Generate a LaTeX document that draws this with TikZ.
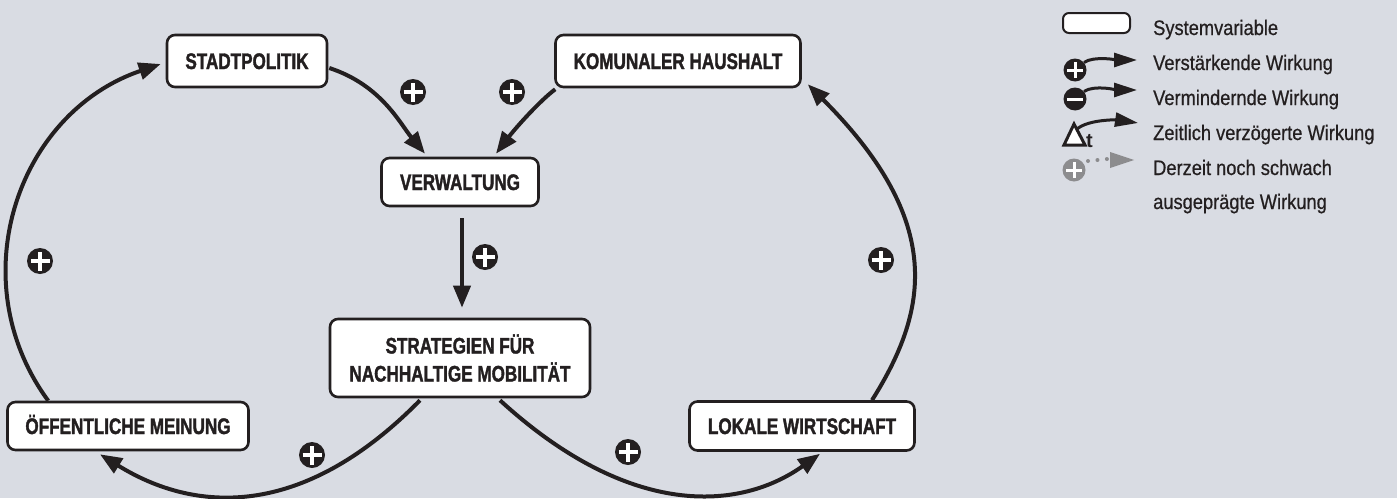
\documentclass[tikz,border=0pt]{standalone}
\usepackage{fontspec}
\setmainfont{Liberation Sans}
\newfontfamily\boxfont[FakeStretch=0.76, BoldFeatures={FakeBold=1.5}]{Liberation Sans}
\newfontfamily\legfont[FakeStretch=0.87, UprightFeatures={FakeBold=0.6}]{Liberation Sans}
\usetikzlibrary{arrows.meta,calc}
\definecolor{ink}{HTML}{231F20}
\definecolor{bgpanel}{HTML}{D9DCE3}
\definecolor{faint}{HTML}{8C8C8E}

\begin{document}
\begin{tikzpicture}[x=1pt,y=-1pt,
  varbox/.style={draw=ink, line width=2.6pt, fill=white, rounded corners=8pt,
    inner sep=0pt, text=ink, align=center,
    font=\boxfont\bfseries\fontsize{22.5}{28}\selectfont},
  oneline/.style={text height=16pt, text depth=0pt},
  flow/.style={draw=ink, line width=4pt, -{Triangle[length=22pt,width=17pt]}},
  pluscirc/.style={circle, fill=ink, minimum size=26pt, inner sep=0pt,
    path picture={
      \draw[white, line width=3.4pt]
        ([xshift=-9.5pt]path picture bounding box.center) -- ([xshift=9.5pt]path picture bounding box.center)
        ([yshift=-9.5pt]path picture bounding box.center) -- ([yshift=9.5pt]path picture bounding box.center);}},
  legplus/.style={circle, fill=#1, minimum size=23pt, inner sep=0pt,
    path picture={
      \draw[white, line width=3pt]
        ([xshift=-8pt]path picture bounding box.center) -- ([xshift=8pt]path picture bounding box.center)
        ([yshift=-8pt]path picture bounding box.center) -- ([yshift=8pt]path picture bounding box.center);}},
  legminus/.style={circle, fill=ink, minimum size=23pt, inner sep=0pt,
    path picture={
      \draw[white, line width=3pt]
        ([xshift=-8pt]path picture bounding box.center) -- ([xshift=8pt]path picture bounding box.center);}},
  legarrow/.style={draw=ink, line width=3pt, -{Triangle[length=23pt,width=14pt]}},
  legtext/.style={anchor=base west, inner sep=0pt, text=ink,
    font=\legfont\fontsize{21}{24}\selectfont}
]
\useasboundingbox[fill=bgpanel] (0,0) rectangle (1397,498);

% system variables
\node[varbox, oneline, minimum width=160pt, minimum height=52pt] (stadt) at (247,61) {STADTPOLITIK};
\node[varbox, oneline, minimum width=245pt, minimum height=52pt] (kom) at (678,61) {KOMUNALER HAUSHALT};
\node[varbox, oneline, minimum width=157pt, minimum height=48pt] (verw) at (460,182) {VERWALTUNG};
\node[varbox, minimum width=260pt, minimum height=78pt] (strat) at (460,358) {STRATEGIEN FÜR\\NACHHALTIGE MOBILITÄT};
\node[varbox, oneline, minimum width=241pt, minimum height=48pt] (oeff) at (128,426) {ÖFFENTLICHE MEINUNG};
\node[varbox, oneline, minimum width=225pt, minimum height=49pt] (lok) at (802,426) {LOKALE WIRTSCHAFT};

% causal links
\draw[flow] ($(stadt.east)+(1,7)$) .. controls +(52,17) and +(-25,-30) .. ($(verw.north)+(-35,-3)$);
\draw[flow] ($(kom.south west)+(1,1)$) .. controls +(-16,12) and +(19,-25) .. ($(verw.north)+(36,-3)$);
\draw[flow] ($(verw.south)+(2,11)$) -- ($(strat.north)+(2,-10)$);
\draw[flow] ($(strat.south)+(-40,2)$) .. controls +(-119,121) and +(93.5,58) .. ($(oeff.south)+(-28,3)$);
\draw[flow] ($(strat.south)+(40,2)$) .. controls +(130,119) and +(-80,57) .. ($(lok.south)+(18,2)$);
\draw[flow] ($(oeff.north west)+(42,0)$) .. controls +(-88,-120) and +(-144,49) .. ($(stadt.west)+(-5,3)$);
\draw[flow] ($(lok.north)+(70,0)$) .. controls +(56,-89) and +(138,138) .. ($(kom.south east)+(6,-4)$);

% polarity marks
\node[pluscirc] (p1) at (413,92) {};
\node[pluscirc] (p2) at (512,92) {};
\node[pluscirc] (p3) at (485,257) {};
\node[pluscirc] (p4) at (40,261) {};
\node[pluscirc] (p5) at (312,455) {};
\node[pluscirc] (p6) at (628,452) {};
\node[pluscirc] (p7) at (881,260) {};

% legend
\node[draw=ink, line width=2pt, fill=white, rounded corners=6pt, minimum width=67pt, minimum height=20pt, inner sep=0pt] (lbox) at (1096.5,23) {};
\node[legtext] (t1) at (1153,35) {Systemvariable};

\node[legplus=ink] (lplus) at (1075,70) {};
\coordinate (e1) at (1137,60);
\draw[legarrow] (lplus.40) .. controls +(10,-7) and +(-18,0) .. (e1);
\node[legtext] (t2) at (1153,70) {Verstärkende Wirkung};

\node[legminus] (lminus) at (1075,99) {};
\coordinate (e2) at (1137,90);
\draw[legarrow] (lminus.40) .. controls +(10,-7) and +(-18,0) .. (e2);
\node[legtext] (t3) at (1153,105) {Vermindernde Wirkung};

\draw[ink, line width=3pt, line join=miter, fill=white] (1064,145) -- (1074,124) -- (1085,145) -- cycle;
\node[anchor=base west, inner sep=0pt, text=ink, font=\bfseries\fontsize{20}{22}\selectfont] (dt) at (1086,147) {t};
\coordinate (d0) at (1077,129);
\coordinate (e3) at (1138,123);
\draw[legarrow] (d0) .. controls +(12,-10) and +(-20,-3) .. (e3);
\node[legtext] (t4) at (1153,140) {Zeitlich verzögerte Wirkung};

\node[legplus=faint] (lweak) at (1074,170) {};
\coordinate (g1) at (1088,161);
\coordinate (g2) at (1107,159);
\draw[faint, line width=4pt, line cap=round, dash pattern=on 0pt off 9.5pt] (g1) -- (g2);
\fill[faint] (1110,152) -- (1134,160) -- (1110,168) -- cycle;
\node[legtext] (t5) at (1153,175) {Derzeit noch schwach};
\node[legtext] (t6) at (1153,209) {ausgeprägte Wirkung};
\end{tikzpicture}
\end{document}
